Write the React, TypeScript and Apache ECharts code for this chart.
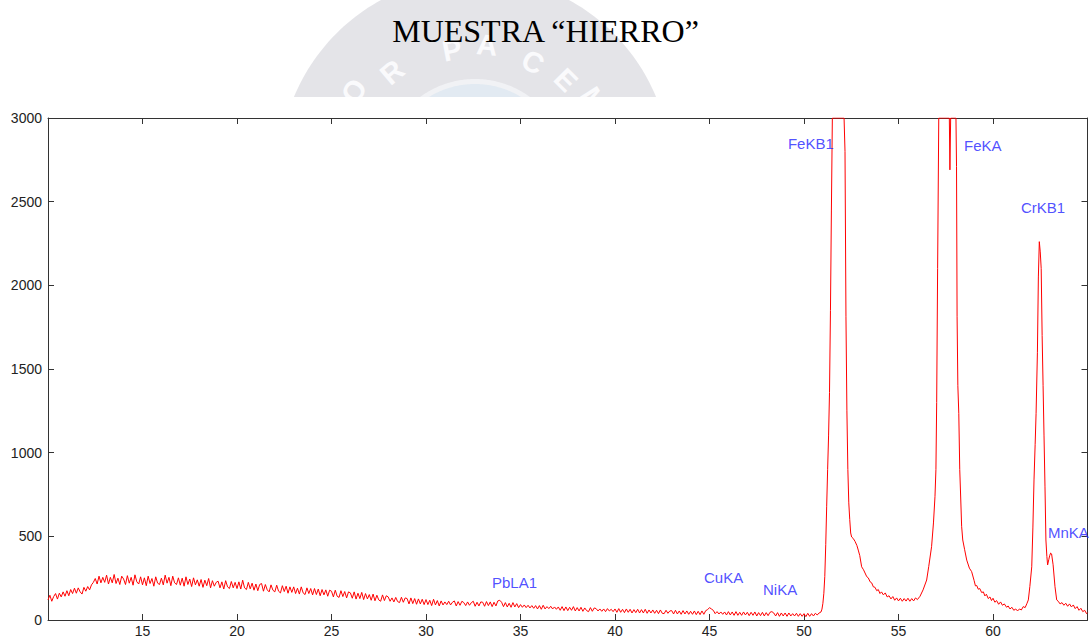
import React, { useEffect, useRef } from "react";
import * as echarts from "echarts";

const TITLE = "MUESTRA “HIERRO”";

const X_MIN = 10;
const X_MAX = 65;
const X_STEP = 5;
const Y_MIN = 0;
const Y_MAX = 3000;
const Y_STEP = 500;

// Background part of the spectrum, sampled every 0.1 from 10.0 to 50.8
const BG_START = 10;
const BG_STEP = 0.1;
const BG_COUNTS = [
  120, 148, 112, 140, 158, 125, 160, 138, 168, 142,
  175, 145, 182, 158, 190, 160, 192, 168, 155, 195,
  172, 200, 180, 210, 225, 248, 215, 262, 222, 255,
  225, 268, 215, 255, 222, 272, 218, 250, 212, 262,
  245, 212, 265, 220, 255, 208, 270, 228, 215, 258,
  210, 252, 205, 262, 218, 248, 202, 258, 220, 212,
  250, 210, 268, 220, 255, 205, 262, 222, 212, 252,
  208, 250, 202, 258, 212, 245, 200, 252, 210, 240,
  202, 242, 195, 238, 205, 248, 192, 235, 202, 225,
  232, 192, 228, 185, 235, 198, 188, 230, 192, 225,
  188, 228, 185, 238, 192, 182, 225, 186, 220, 178,
  215, 175, 212, 218, 172, 212, 180, 168, 210, 178,
  168, 208, 172, 162, 205, 170, 202, 160, 198, 165,
  198, 158, 190, 155, 198, 162, 152, 192, 158, 188,
  150, 188, 152, 185, 145, 182, 150, 180, 142, 178,
  172, 138, 178, 142, 135, 175, 140, 170, 132, 168,
  162, 130, 168, 125, 160, 128, 165, 122, 158, 126,
  152, 118, 155, 115, 148, 120, 112, 150, 116, 145,
  138, 112, 132, 108, 135, 110, 104, 136, 106, 132,
  128, 96, 132, 98, 128, 94, 126, 96, 124, 92,
  122, 92, 118, 86, 124, 90, 116, 84, 114, 90,
  108, 92, 112, 90, 106, 114, 84, 110, 88, 112,
  104, 86, 108, 88, 104, 112, 82, 106, 84, 108,
  106, 82, 110, 86, 108, 80, 106, 84, 114, 118,
  106, 80, 104, 78, 100, 76, 104, 78, 98, 74,
  92, 76, 90, 74, 88, 72, 86, 70, 86, 66,
  86, 64, 88, 66, 80, 68, 82, 66, 78, 64,
  78, 58, 80, 56, 78, 56, 76, 58, 80, 54,
  74, 54, 76, 52, 72, 56, 50, 74, 52, 72,
  68, 54, 66, 52, 66, 50, 68, 54, 64, 50,
  66, 46, 68, 46, 64, 44, 66, 46, 64, 42,
  62, 44, 64, 42, 62, 42, 64, 40, 60, 42,
  60, 40, 58, 38, 60, 40, 38, 58, 40, 54,
  56, 36, 58, 36, 54, 34, 56, 36, 54, 34,
  52, 34, 54, 32, 52, 32, 54, 34, 56, 62,
  74, 66, 58, 38, 50, 36, 48, 34, 48, 30,
  50, 30, 48, 28, 50, 28, 46, 28, 48, 30,
  46, 26, 46, 28, 48, 24, 44, 26, 46, 24,
  44, 26, 46, 50, 42, 24, 44, 22, 42, 24,
  42, 22, 42, 24, 38, 24, 40, 22, 38, 22,
  38, 20, 40, 22, 38, 24, 40, 30, 42,
];

// Peak region (FeKB1, FeKA, CrKB1, MnKA), irregular sampling
const PEAK_X = [
  50.9, 50.95, 51.0, 51.05, 51.1, 51.15, 51.2, 51.25, 51.3, 51.35, 51.4, 51.45, 51.5,
  52.12, 52.17, 52.22, 52.27, 52.32, 52.37, 52.42, 52.47, 52.52, 52.6, 52.7, 52.8, 52.87,
  52.95, 53.05, 53.15, 53.32, 53.4, 53.5, 53.58, 53.67, 53.75, 53.85, 53.93, 54.02, 54.1,
  54.2, 54.3, 54.4, 54.5, 54.6, 54.7, 54.8, 54.9, 55.0, 55.1, 55.2, 55.3, 55.4, 55.5, 55.6,
  55.7, 55.8, 55.9, 56.0, 56.14, 56.3, 56.49, 56.6, 56.75, 56.85, 56.93, 56.98, 57.02,
  57.07, 57.13, 57.69, 57.72, 57.76, 58.04, 58.07, 58.1, 58.14, 58.19, 58.24, 58.29,
  58.34, 58.4, 58.5, 58.61, 58.75, 58.87, 59.0, 59.07, 59.14, 59.22, 59.3, 59.4, 59.49,
  59.57, 59.65, 59.75, 59.84, 59.92, 60.0, 60.1, 60.19, 60.3, 60.4, 60.5, 60.6, 60.72,
  60.8, 60.9, 61.0, 61.1, 61.2, 61.3, 61.4, 61.5, 61.6, 61.7, 61.8, 61.87, 61.95, 62.05,
  62.11, 62.17, 62.23, 62.28, 62.35, 62.4, 62.45, 62.5, 62.55, 62.6, 62.65, 62.7, 62.75,
  62.8, 62.85, 62.89, 62.95, 63.0, 63.05, 63.1, 63.18, 63.28, 63.37, 63.45, 63.55, 63.65,
  63.75, 63.85, 63.95, 64.05, 64.15, 64.25, 64.35, 64.45, 64.55, 64.65, 64.75, 64.85,
  64.95, 65.0,
];
const PEAK_Y = [
  48, 65, 100, 160, 260, 450, 680, 900, 1100, 1360, 1850, 2450, 3000,
  3000, 2800, 1812, 1250, 900, 700, 600, 520, 496, 488, 470, 445, 418,
  385, 318, 300, 259, 252, 228, 222, 198, 196, 175, 182, 158, 168,
  150, 162, 138, 145, 126, 140, 118, 132, 114, 130, 112, 128, 113, 130, 112,
  128, 114, 132, 122, 142, 180, 239, 320, 438, 580, 737, 900, 1300,
  2100, 3000, 3000, 2690, 3000, 3000, 2710, 1812, 1400, 1235, 900, 735,
  560, 478, 420, 358, 310, 289, 236, 204, 206, 184, 188, 164, 168,
  144, 154, 128, 138, 116, 130, 106, 116, 94, 108, 88, 96, 76,
  84, 66, 76, 58, 66, 54, 66, 60, 80, 74, 100, 120, 200, 318,
  550, 837, 1050, 1235, 1600, 2050, 2261, 2200, 2100, 1700, 1400, 1100, 800,
  478, 380, 329, 360, 385, 400, 395, 330, 199, 120, 112, 96, 104,
  88, 100, 82, 96, 78, 90, 68, 80, 58, 70, 50, 58,
  38, 44,
];

// Element line annotations
const LABEL_NAMES = ["PbLA1", "CuKA", "NiKA", "FeKB1", "FeKA", "CrKB1", "MnKA"];
const LABEL_X = [33.49, 44.71, 47.83, 49.15, 58.47, 61.48, 62.91];
const LABEL_Y = [227, 251, 185, 2845, 2833, 2468, 520];

// Watermark letters (faint university seal behind the title)
const WM_LETTERS = ["O", "R", "P", "A", "C", "E", "M"];
const WM_POS: [number, number, number][] = [
  [354, 91, -56],
  [392, 72, -40],
  [452, 50, -11],
  [487, 45, 5],
  [533, 62, 28],
  [566, 80, 45],
  [594, 100, 58],
];

function segmentPoints(cx: number, cy: number, r: number, chordY: number) {
  const a = Math.acos(Math.min(1, (cy - chordY) / r));
  const pts: number[][] = [];
  const n = 90;
  for (let i = 0; i <= n; i++) {
    const t = -a + (2 * a * i) / n;
    pts.push([cx + r * Math.sin(t), cy - r * Math.cos(t)]);
  }
  return pts;
}

const SANS = '"Liberation Sans", Arial, Helvetica, sans-serif';

export default function App() {
  const ref = useRef<HTMLDivElement>(null);

  useEffect(() => {
    document.body.style.margin = "0";
    if (!ref.current) return;
    const chart = echarts.init(ref.current, undefined, { renderer: "svg" });

    const spectrum: number[][] = [];
    BG_COUNTS.forEach((v, i) => {
      spectrum.push([+(BG_START + i * BG_STEP).toFixed(2), v]);
    });
    PEAK_X.forEach((x, i) => spectrum.push([x, PEAK_Y[i]]));

    const labelData = LABEL_NAMES.map((n, i) => ({
      name: n,
      value: [LABEL_X[i], LABEL_Y[i]],
    }));

    const axisLine = { show: true, onZero: false, lineStyle: { color: "#333", width: 1 } };
    const axisTick = { show: true, inside: true, length: 6, lineStyle: { color: "#333", width: 1 } };
    const labelStyle = { fontFamily: SANS, fontSize: 14, color: "#222" };

    const wmCx = 475;
    const wmCy = 172;

    const letters = WM_LETTERS.map((ch, i) => ({
      type: "text",
      z: -2,
      silent: true,
      x: WM_POS[i][0],
      y: WM_POS[i][1],
      rotation: (-WM_POS[i][2] * Math.PI) / 180,
      style: {
        text: ch,
        fill: "#fafafc",
        fontSize: 29,
        fontWeight: "bold",
        fontFamily: "sans-serif",
        align: "center",
        verticalAlign: "middle",
      },
    }));

    const graphic: any[] = [
      {
        type: "polygon",
        z: -5,
        silent: true,
        shape: { points: segmentPoints(wmCx, wmCy, 196, 97) },
        style: { fill: "#e4e4e8" },
      },
      {
        type: "polygon",
        z: -4,
        silent: true,
        shape: { points: segmentPoints(wmCx, wmCy, 93, 97) },
        style: { fill: "#f1f2f5" },
      },
      {
        type: "polygon",
        z: -3,
        silent: true,
        shape: { points: segmentPoints(wmCx, wmCy, 88, 97) },
        style: { fill: "#e2eaf2" },
      },
      ...letters,
      {
        type: "rect",
        z: -1,
        silent: true,
        shape: { x: 0, y: 97, width: 1091, height: 20 },
        style: { fill: "#ffffff" },
      },
    ];

    chart.setOption({
      animation: false,
      backgroundColor: "#ffffff",
      title: {
        text: TITLE,
        left: "center",
        top: 10,
        textStyle: {
          fontFamily: '"Liberation Serif", "Times New Roman", serif',
          fontSize: 32,
          fontWeight: "normal",
          color: "#000",
        },
      },
      graphic,
      grid: {
        left: 48,
        right: 3.5,
        top: 118,
        bottom: 19,
        containLabel: false,
        outerBoundsMode: "none",
        show: true,
        backgroundColor: "#ffffff",
        borderWidth: 0,
      },
      xAxis: [
        {
          type: "value",
          min: X_MIN,
          max: X_MAX,
          interval: X_STEP,
          position: "bottom",
          axisLine,
          axisTick,
          splitLine: { show: false },
          axisLabel: {
            ...labelStyle,
            lineHeight: 12,
            showMinLabel: false,
            showMaxLabel: false,
            margin: 5,
          },
        },
        {
          type: "value",
          min: X_MIN,
          max: X_MAX,
          interval: X_STEP,
          position: "top",
          axisLine,
          axisTick,
          splitLine: { show: false },
          axisLabel: { show: false },
        },
      ],
      yAxis: [
        {
          type: "value",
          min: Y_MIN,
          max: Y_MAX,
          interval: Y_STEP,
          position: "left",
          axisLine,
          axisTick,
          splitLine: { show: false },
          axisLabel: { ...labelStyle, margin: 6, formatter: (v: number) => String(v) },
        },
        {
          type: "value",
          min: Y_MIN,
          max: Y_MAX,
          interval: Y_STEP,
          position: "right",
          axisLine,
          axisTick,
          splitLine: { show: false },
          axisLabel: { show: false },
        },
      ],
      series: [
        {
          type: "line",
          name: "HIERRO",
          xAxisIndex: 0,
          yAxisIndex: 0,
          data: spectrum,
          showSymbol: false,
          symbol: "none",
          clip: true,
          z: 3,
          lineStyle: { color: "#ff0000", width: 1 },
          emphasis: { disabled: true },
        },
        {
          type: "scatter",
          name: "lines",
          xAxisIndex: 0,
          yAxisIndex: 0,
          data: labelData,
          symbolSize: 0,
          z: 4,
          label: {
            show: true,
            position: "right",
            distance: 0,
            formatter: "{b}",
            fontFamily: SANS,
            fontSize: 15,
            color: "#2424ff",
          },
          emphasis: { disabled: true },
        },
      ],
    });

    return () => chart.dispose();
  }, []);

  return <div ref={ref} style={{ width: 1091, height: 639 }} />;
}
